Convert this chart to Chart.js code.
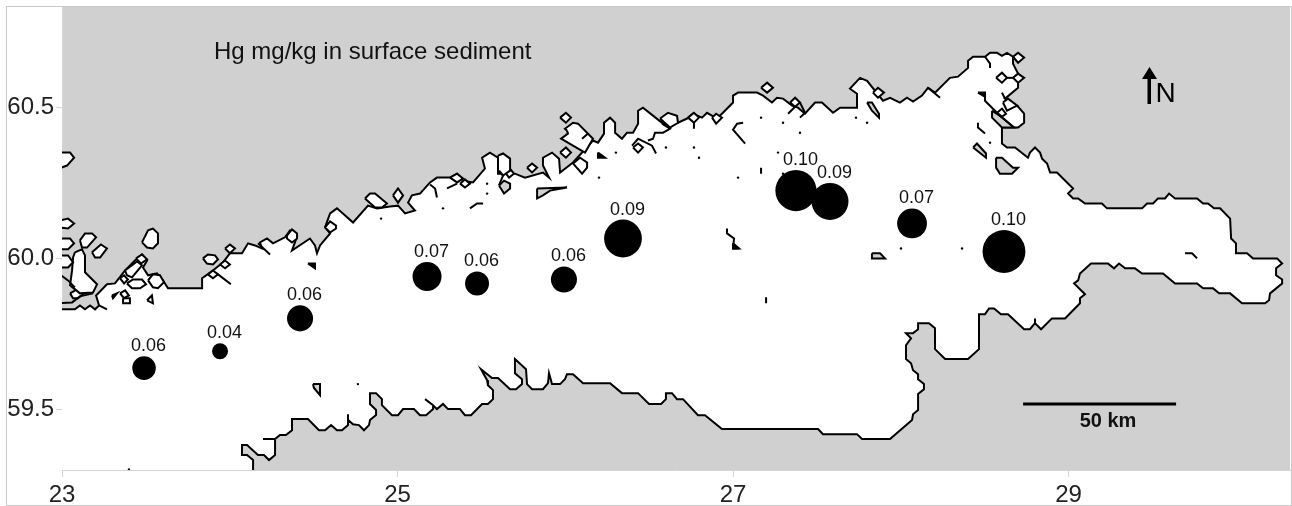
<!DOCTYPE html>
<html>
<head>
<meta charset="utf-8">
<title>Hg in surface sediment</title>
<script src="https://cdn.jsdelivr.net/npm/chart.js@4"></script>
<style>
  html, body { margin: 0; padding: 0; background: #fff; }
  #frame { position: absolute; left: 6px; top: 6px; width: 1284px; height: 498px; border: 1px solid #c8c8c8; }
  #myChart { position: absolute; left: 0; top: 0; }
</style>
</head>
<body>
<div id="frame"></div>
<canvas id="myChart" width="1292" height="506"></canvas>
<script>
// sampling sites, longitude / latitude / Hg mg/kg
var siteLon = [23.489, 23.942, 24.419, 25.176, 25.474, 25.992, 26.344, 27.375, 27.578, 28.067, 28.615];
var siteLat = [59.636, 59.692, 59.801, 59.940, 59.917, 59.930, 60.066, 60.225, 60.189, 60.116, 60.023];
var siteHg = [0.056, 0.038, 0.062, 0.069, 0.057, 0.062, 0.090, 0.098, 0.088, 0.071, 0.102];

var xTicks = [23, 25, 27, 29];
var yTicks = [59.5, 60, 60.5];
var titleText = 'Hg mg/kg in surface sediment';
var scaleLabel = '50 km';
var scaleBar = [[28.729, 59.517], [29.641, 59.517]];

// sea outline, west -> north shore -> east end -> south shore
var coast = [
  [23.000,59.831],[23.077,59.831],[23.107,59.844],[23.137,59.831],[23.167,59.844],[23.197,59.831],[23.221,59.844],
  [23.203,59.877],[23.268,59.914],[23.316,59.917],[23.376,59.960],[23.435,59.993],[23.477,60.013],[23.507,59.993],
  [23.483,59.970],[23.513,59.944],[23.566,59.950],[23.602,59.927],[23.632,59.901],[23.835,59.901],[23.835,59.934],
  [23.900,59.960],[23.960,59.987],[24.001,60.017],[24.073,60.017],[24.109,60.050],[24.150,60.043],[24.192,60.033],
  [24.180,60.053],[24.222,60.066],[24.258,60.050],[24.329,60.070],[24.359,60.093],[24.401,60.073],[24.371,60.026],
  [24.478,60.066],[24.508,60.043],[24.520,60.017],[24.538,60.043],[24.598,60.083],[24.568,60.103],[24.598,60.149],
  [24.639,60.166],[24.735,60.119],[24.824,60.175],[24.878,60.166],[24.955,60.172],[25.003,60.175],[25.045,60.149],
  [25.104,60.159],[25.063,60.185],[25.086,60.209],[25.134,60.215],[25.194,60.252],[25.235,60.268],[25.313,60.268],
  [25.355,60.281],[25.390,60.258],[25.450,60.252],[25.521,60.298],[25.504,60.334],[25.551,60.351],[25.599,60.334],
  [25.599,60.281],[25.700,60.281],[25.760,60.268],[25.867,60.285],[25.903,60.268],[25.867,60.308],[25.867,60.334],
  [25.921,60.351],[25.963,60.331],[25.969,60.285],[26.046,60.318],[26.165,60.391],[26.195,60.384],[26.231,60.414],
  [26.231,60.450],[26.267,60.467],[26.297,60.450],[26.297,60.417],[26.338,60.397],[26.368,60.417],[26.404,60.417],
  [26.434,60.447],[26.434,60.490],[26.463,60.500],[26.583,60.447],[26.672,60.450],[26.726,60.464],[26.761,60.480],
  [26.815,60.467],[26.845,60.483],[26.904,60.464],[26.940,60.483],[27.000,60.517],[27.000,60.540],[27.030,60.550],
  [27.143,60.550],[27.179,60.540],[27.232,60.517],[27.262,60.533],[27.298,60.530],[27.352,60.507],[27.387,60.500],
  [27.429,60.480],[27.489,60.517],[27.530,60.517],[27.596,60.483],[27.638,60.500],[27.739,60.500],[27.739,60.546],
  [27.697,60.563],[27.757,60.599],[27.799,60.589],[27.894,60.523],[27.936,60.533],[27.995,60.517],[28.037,60.533],
  [28.073,60.520],[28.126,60.540],[28.162,60.566],[28.204,60.550],[28.293,60.599],[28.341,60.603],[28.401,60.632],
  [28.401,60.656],[28.431,60.669],[28.502,60.669],[28.532,60.682],[28.574,60.682],[28.603,60.672],[28.633,60.682],
  [28.669,60.669],[28.669,60.646],[28.699,60.613],[28.699,60.566],[28.621,60.530],[28.693,60.507],[28.735,60.480],
  [28.735,60.450],[28.699,60.434],[28.603,60.434],[28.603,60.381],[28.633,60.368],[28.681,60.368],[28.758,60.334],
  [28.770,60.351],[28.800,60.368],[28.830,60.351],[28.842,60.331],[28.872,60.315],[28.890,60.285],[28.931,60.285],
  [29.027,60.232],[28.997,60.215],[29.027,60.199],[29.057,60.199],[29.098,60.182],[29.199,60.182],[29.229,60.166],
  [29.438,60.166],[29.468,60.182],[29.504,60.182],[29.533,60.199],[29.575,60.199],[29.599,60.215],[29.635,60.199],
  [29.766,60.199],[29.802,60.182],[29.831,60.182],[29.867,60.166],[29.903,60.166],[29.963,60.132],[29.969,60.066],
  [29.998,60.050],[29.998,60.017],[30.064,60.017],[30.100,60.000],[30.243,60.000],[30.273,59.983],[30.237,59.967],
  [30.237,59.944],[30.273,59.930],[30.273,59.917],[30.201,59.884],[30.195,59.861],[30.171,59.851],[30.034,59.851],
  [29.963,59.884],[29.897,59.884],[29.861,59.901],[29.802,59.901],[29.766,59.917],[29.635,59.917],[29.563,59.950],
  [29.438,59.950],[29.396,59.967],[29.337,59.967],[29.301,59.983],[29.271,59.967],[29.235,59.983],[29.134,59.983],
  [29.068,59.950],[29.057,59.927],[29.033,59.917],[29.098,59.881],[29.068,59.868],[29.068,59.851],[28.979,59.801],
  [28.901,59.801],[28.836,59.765],[28.800,59.785],[28.800,59.801],[28.800,59.785],[28.770,59.765],[28.735,59.765],
  [28.639,59.815],[28.597,59.815],[28.556,59.834],[28.526,59.834],[28.502,59.815],[28.466,59.815],[28.466,59.699],
  [28.401,59.666],[28.264,59.666],[28.204,59.699],[28.204,59.768],[28.168,59.785],[28.103,59.785],[28.103,59.765],
  [28.073,59.752],[28.031,59.752],[28.061,59.735],[28.031,59.712],[28.031,59.666],[28.061,59.652],[28.073,59.629],
  [28.103,59.616],[28.103,59.599],[28.138,59.583],[28.138,59.566],[28.103,59.550],[28.103,59.497],[28.073,59.483],
  [28.067,59.464],[27.936,59.401],[27.769,59.401],[27.739,59.417],[27.536,59.417],[27.507,59.434],[26.934,59.434],
  [26.833,59.480],[26.791,59.480],[26.702,59.533],[26.666,59.533],[26.636,59.553],[26.600,59.553],[26.600,59.533],
  [26.571,59.517],[26.499,59.517],[26.434,59.553],[26.338,59.553],[26.267,59.586],[26.106,59.586],[26.046,59.616],
  [26.010,59.616],[25.998,59.599],[25.969,59.583],[25.921,59.583],[25.903,59.619],[25.897,59.586],[25.867,59.566],
  [25.802,59.566],[25.772,59.583],[25.766,59.632],[25.700,59.666],[25.700,59.619],[25.742,59.599],[25.742,59.583],
  [25.706,59.566],[25.671,59.566],[25.599,59.603],[25.563,59.603],[25.498,59.632],[25.534,59.596],[25.539,59.579],
  [25.569,59.563],[25.569,59.533],[25.539,59.517],[25.504,59.517],[25.438,59.480],[25.402,59.480],[25.372,59.500],
  [25.301,59.500],[25.271,59.517],[25.235,59.500],[25.212,59.513],[25.164,59.533],[25.212,59.513],[25.212,59.500],
  [25.170,59.480],[25.134,59.480],[25.098,59.500],[25.033,59.500],[25.003,59.480],[24.967,59.480],[24.907,59.513],
  [24.907,59.533],[24.872,59.553],[24.836,59.553],[24.836,59.517],[24.872,59.497],[24.872,59.480],[24.836,59.464],
  [24.830,59.447],[24.800,59.430],[24.770,59.447],[24.735,59.450],[24.705,59.464],[24.705,59.483],[24.705,59.447],
  [24.669,59.430],[24.639,59.430],[24.604,59.447],[24.568,59.430],[24.532,59.430],[24.466,59.467],[24.371,59.467],
  [24.371,59.430],[24.335,59.414],[24.299,59.414],[24.270,59.401],[24.198,59.401],[24.270,59.401],[24.270,59.381],
  [24.270,59.348],[24.234,59.331],[24.204,59.348],[24.168,59.348],[24.103,59.381],[24.073,59.381],[24.073,59.348],
  [24.103,59.348],[24.139,59.331],[24.139,59.298]
];
var seaClosing = [[23.000,59.298]];

// small islands, white with an outline
var islands = [
  [[22.98,60.351],[23.048,60.351],[23.072,60.334],[23.03,60.308],[22.98,60.298]],
  [[22.98,60.125],[23.036,60.132],[23.072,60.116],[23.036,60.099],[22.98,60.103]],
  [[22.98,60.066],[23.048,60.066],[23.072,60.05],[23.036,60.03],[22.98,60.03]],
  [[22.98,60.01],[23.036,60.01],[23.066,59.987],[23.036,59.97],[22.98,59.97]],
  [[23.077,60.02],[23.119,60.03],[23.137,60.01],[23.137,59.954],[23.209,59.914],[23.185,59.887],[23.107,59.884],[23.048,59.911],[23.06,59.96],[23.066,60.003]],
  [[23.107,60.06],[23.137,60.083],[23.179,60.083],[23.203,60.07],[23.149,60.036],[23.119,60.036]],
  [[23.179,60.02],[23.232,60.046],[23.268,60.033],[23.227,60.003],[23.197,60.003]],
  [[23.477,60.053],[23.513,60.093],[23.542,60.099],[23.572,60.083],[23.572,60.05],[23.542,60.033],[23.507,60.036]],
  [[23.048,59.884],[23.089,59.897],[23.131,59.884],[23.095,59.868],[23.066,59.868]],
  [[23.346,59.934],[23.37,59.944],[23.393,59.93],[23.37,59.917]],
  [[23.387,59.917],[23.423,59.93],[23.477,59.93],[23.501,59.914],[23.465,59.901],[23.417,59.901]],
  [[23.441,60],[23.477,60.013],[23.507,59.997],[23.471,59.983]],
  [[23.376,59.96],[23.447,59.99],[23.477,59.977],[23.417,59.937],[23.387,59.944]],
  [[23.513,59.927],[23.542,59.947],[23.584,59.944],[23.608,59.921],[23.572,59.901],[23.542,59.904]],
  [[23.346,59.884],[23.376,59.894],[23.399,59.877],[23.37,59.868]],
  [[23.364,59.868],[23.405,59.868],[23.405,59.851],[23.364,59.851]],
  [[23.507,59.861],[23.536,59.877],[23.542,59.851]],
  [[23.298,59.877],[23.328,59.884],[23.304,59.868]],
  [[23.84,60],[23.87,60.013],[23.912,60.01],[23.93,59.997],[23.9,59.98],[23.864,59.983]],
  [[23.942,59.98],[23.972,59.993],[24.001,59.98],[23.972,59.967]],
  [[23.87,59.947],[23.9,59.96],[23.93,59.947],[23.9,59.934]],
  [[23.972,60.033],[24.001,60.046],[24.031,60.033],[24.001,60.017]],
  [[24.341,60.076],[24.371,60.096],[24.401,60.083],[24.401,60.066],[24.371,60.053],[24.341,60.066]],
  [[24.568,60.103],[24.598,60.123],[24.633,60.109],[24.633,60.099],[24.598,60.086]],
  [[24.806,60.199],[24.836,60.215],[24.866,60.215],[24.937,60.182],[24.907,60.169],[24.866,60.169]],
  [[24.973,60.209],[25.003,60.232],[25.033,60.209],[25.003,60.185]],
  [[25.313,60.268],[25.355,60.281],[25.39,60.265],[25.355,60.252]],
  [[25.373,60.248],[25.402,60.262],[25.432,60.248],[25.402,60.235]],
  [[25.599,60.341],[25.629,60.348],[25.671,60.331],[25.671,60.291],[25.629,60.275],[25.599,60.291]],
  [[25.641,60.285],[25.665,60.301],[25.694,60.281],[25.665,60.268]],
  [[25.772,60.301],[25.802,60.315],[25.832,60.301],[25.802,60.285]],
  [[25.969,60.467],[26.004,60.483],[26.034,60.467],[26.004,60.45]],
  [[26.01,60.424],[25.998,60.43],[26.046,60.45],[26.076,60.447],[26.165,60.397],[26.118,60.351],[26.046,60.374],[25.975,60.397],[26.016,60.414]],
  [[25.969,60.351],[26.004,60.368],[26.034,60.351],[26.004,60.334]],
  [[26.046,60.315],[26.088,60.334],[26.13,60.318],[26.13,60.301],[26.1,60.281]],
  [[26.404,60.368],[26.434,60.381],[26.463,60.368],[26.434,60.351]],
  [[26.565,60.464],[26.612,60.483],[26.666,60.473],[26.672,60.45],[26.624,60.434]],
  [[26.732,60.467],[26.767,60.483],[26.797,60.467],[26.767,60.45]],
  [[26.875,60.467],[26.899,60.48],[26.934,60.467],[26.899,60.447]],
  [[27.167,60.566],[27.203,60.583],[27.238,60.566],[27.203,60.55]],
  [[27.34,60.517],[27.37,60.533],[27.399,60.517],[27.37,60.503]],
  [[27.834,60.55],[27.864,60.566],[27.9,60.55],[27.864,60.533]],
  [[28.669,60.669],[28.699,60.682],[28.735,60.666],[28.699,60.649]],
  [[28.568,60.599],[28.603,60.616],[28.633,60.599],[28.603,60.583]],
  [[28.669,60.599],[28.699,60.613],[28.735,60.599],[28.699,60.583]],
  [[28.574,60.483],[28.603,60.497],[28.627,60.48],[28.603,60.47]],
  [[28.609,60.517],[28.639,60.53],[28.693,60.507],[28.633,60.49]]
];

// land patches inside the sea, grey with an outline
var landPatches = [
  [[24.496,59.583],[24.538,59.583],[24.538,59.546],[24.502,59.57]],
  [[25.832,60.232],[26.01,60.235],[25.909,60.225],[25.867,60.209],[25.832,60.199]],
  [[28.544,60.49],[28.591,60.473],[28.675,60.434],[28.603,60.434],[28.544,60.467]],
  [[28.431,60.368],[28.454,60.381],[28.508,60.348],[28.508,60.334]],
  [[28.568,60.334],[28.603,60.334],[28.669,60.301],[28.699,60.301],[28.663,60.281],[28.591,60.281],[28.568,60.301]],
  [[27.828,60.017],[27.876,60.017],[27.906,60],[27.828,60]],
  [[25.605,60.242],[25.635,60.258],[25.671,60.248],[25.671,60.232],[25.635,60.215]],
  [[27.799,60.517],[27.828,60.517],[27.87,60.48],[27.87,60.467],[27.828,60.49]]
];

// tiny patches that come out solid
var solidPatches = [
  [[24.466,59.983],[24.508,59.983],[24.508,59.967]],
  [[26.195,60.351],[26.237,60.334],[26.195,60.334]],
  [[27,60.05],[27.036,60.033],[27,60.033]],
  [[28.46,60.55],[28.502,60.55],[28.502,60.536]]
];

// open shoreline pieces
var shoreBits = [
  [[22.98,59.851],[23.06,59.854],[23.107,59.874],[23.185,59.884]],
  [[22.98,59.95],[23.036,59.927],[23.077,59.904]],
  [[23.221,59.844],[23.268,59.831]],
  [[23.93,59.947],[24.007,59.914]],
  [[24.168,60.05],[24.24,60.013]],
  [[25.432,60.166],[25.474,60.182],[25.51,60.182]],
  [[27.06,60.45],[27.024,60.447],[27,60.427],[27.072,60.381]],
  [[27.167,60.301],[27.167,60.281]],
  [[27.197,59.871],[27.197,59.851]],
  [[26.398,60.374],[26.434,60.397],[26.517,60.374],[26.541,60.348]],
  [[26.577,60.447],[26.624,60.43],[26.583,60.417],[26.535,60.417],[26.523,60.397],[26.493,60.391]],
  [[26.767,60.45],[26.767,60.43]],
  [[27.37,60.503],[27.328,60.48]],
  [[27.399,60.517],[27.429,60.483],[27.399,60.467]],
  [[28.162,60.566],[28.234,60.533]],
  [[28.502,60.669],[28.532,60.646],[28.532,60.632]],
  [[28.633,60.599],[28.669,60.599]],
  [[28.502,60.55],[28.502,60.523],[28.591,60.473],[28.675,60.434]],
  [[28.46,60.45],[28.46,60.434],[28.502,60.414]],
  [[29.694,60.017],[29.736,60.017],[29.766,60]],
  [[25.295,60.232],[25.355,60.248]],
  [[25.194,60.245],[25.224,60.232],[25.235,60.202]],
  [[26.1,60.397],[26.136,60.414]],
  [[28.603,60.55],[28.621,60.53]],
  [[25.605,60.291],[25.629,60.275],[25.605,60.242]],
  [[26.964,60.099],[26.964,60.083],[27.006,60.066],[27,60.033],[27.036,60.033]]
];

// single cell rocks
var rocks = [
  [24.902,60.132],[24.764,59.583],[23.399,59.3],[25.271,60.166],[25.534,60.248],[25.534,60.215],
  [26.302,60.351],[26.201,60.268],[26.6,60.368],[26.767,60.368],[26.797,60.334],[27.03,60.268],
  [27.167,60.467],[27.298,60.45],[27.399,60.417],[27.733,60.467],[27.268,60.351],[27.298,60.281],
  [27.799,60.45],[28.532,60.384],[28.001,60.033],[28.365,60.033]
];

var LAND = '#d0d0d0';
var FONT = '"Liberation Sans", Arial, sans-serif';

function toXY(list) {
  return list.map(function (p) { return { x: p[0], y: p[1] }; });
}

function outline(list, fillColor) {
  return {
    type: 'scatter',
    data: toXY(list.concat([list[0]])),
    showLine: true,
    fill: 'shape',
    backgroundColor: fillColor,
    borderColor: '#000',
    borderWidth: 2,
    pointRadius: 0,
    tension: 0
  };
}

function openLine(list, width) {
  return {
    type: 'scatter',
    data: toXY(list),
    showLine: true,
    fill: false,
    borderColor: '#000',
    borderWidth: width,
    pointRadius: 0,
    tension: 0
  };
}

// first in the list ends up on top
var datasets = [];
datasets.push({
  type: 'bubble',
  data: siteLon.map(function (lon, i) { return { x: lon, y: siteLat[i], r: siteHg[i] * 210 }; }),
  backgroundColor: '#000',
  borderColor: '#000',
  borderWidth: 0
});
datasets.push(openLine(scaleBar, 3));
datasets.push({
  type: 'scatter',
  data: toXY(rocks),
  backgroundColor: '#000',
  borderWidth: 0,
  pointRadius: 1.2
});
shoreBits.forEach(function (b) { datasets.push(openLine(b, 2)); });
solidPatches.forEach(function (b) { datasets.push(outline(b, '#000')); });
landPatches.forEach(function (b) { datasets.push(outline(b, LAND)); });
islands.forEach(function (b) { datasets.push(outline(b, '#fff')); });
datasets.push(openLine(coast, 2));
datasets.push({
  type: 'scatter',
  data: toXY(coast.concat(seaClosing)),
  showLine: true,
  fill: 'shape',
  backgroundColor: '#fff',
  borderWidth: 0,
  pointRadius: 0,
  tension: 0
});

var landPlugin = {
  id: 'land',
  beforeDraw: function (chart) {
    var a = chart.chartArea;
    chart.ctx.save();
    chart.ctx.fillStyle = LAND;
    chart.ctx.fillRect(a.left, a.top, a.right - a.left, a.bottom - a.top);
    chart.ctx.restore();
  }
};

var notesPlugin = {
  id: 'notes',
  afterDatasetsDraw: function (chart) {
    var ctx = chart.ctx;
    var x = chart.scales.x;
    var y = chart.scales.y;
    ctx.save();
    ctx.fillStyle = '#111';
    ctx.textBaseline = 'middle';

    // value labels over the sites
    ctx.textAlign = 'center';
    ctx.font = '18px ' + FONT;
    siteHg.forEach(function (v, i) {
      var r = v * 210;
      ctx.fillText(v.toFixed(2), x.getPixelForValue(siteLon[i]) + 4.5, y.getPixelForValue(siteLat[i]) - r - 10);
    });

    // title
    ctx.textAlign = 'left';
    ctx.font = '24px ' + FONT;
    ctx.fillText(titleText, 214, 52);

    // scale bar label
    ctx.textAlign = 'center';
    ctx.font = 'bold 20px ' + FONT;
    ctx.fillText(scaleLabel, 1108, 421);

    // north arrow
    ctx.fillStyle = '#000';
    ctx.fillRect(1147.5, 78, 3.5, 26);
    ctx.beginPath();
    ctx.moveTo(1149.5, 67);
    ctx.lineTo(1157, 79);
    ctx.lineTo(1142, 79);
    ctx.closePath();
    ctx.fill();
    ctx.textAlign = 'left';
    ctx.font = '28px ' + FONT;
    ctx.fillText('N', 1155.5, 94);
    ctx.restore();
  }
};

var ctx = document.getElementById('myChart').getContext('2d');
var chart = new Chart(ctx, {
  type: 'scatter',
  data: { datasets: datasets },
  plugins: [landPlugin, notesPlugin],
  options: {
    responsive: false,
    animation: false,
    events: [],
    layout: { autoPadding: false, padding: { top: 7, right: 2, bottom: 0, left: 0 } },
    plugins: { legend: { display: false }, tooltip: { enabled: false } },
    scales: {
      x: {
        type: 'linear',
        min: 23,
        max: 30.32,
        afterBuildTicks: function (axis) {
          axis.ticks = xTicks.map(function (v) { return { value: v }; });
        },
        afterFit: function (axis) {
          axis.height = 36;
          axis.paddingLeft = 0;
          axis.paddingRight = 0;
        },
        grid: { drawOnChartArea: false, color: '#d4d4d4', tickLength: 7 },
        border: { color: '#d4d4d4' },
        ticks: {
          color: '#222',
          font: { family: FONT, size: 24 },
          padding: 4,
          maxRotation: 0,
          autoSkip: false,
          callback: function (v) { return String(v); }
        }
      },
      y: {
        type: 'linear',
        min: 59.298,
        max: 60.834,
        afterBuildTicks: function (axis) {
          axis.ticks = yTicks.map(function (v) { return { value: v }; });
        },
        afterFit: function (axis) {
          axis.width = 62;
          axis.paddingTop = 0;
          axis.paddingBottom = 0;
        },
        grid: { drawOnChartArea: false, color: '#d4d4d4', tickLength: 6 },
        border: { color: '#d4d4d4' },
        ticks: {
          color: '#222',
          font: { family: FONT, size: 24 },
          padding: 2,
          autoSkip: false,
          callback: function (v) { return v.toFixed(1); }
        }
      }
    }
  }
});
</script>
</body>
</html>
